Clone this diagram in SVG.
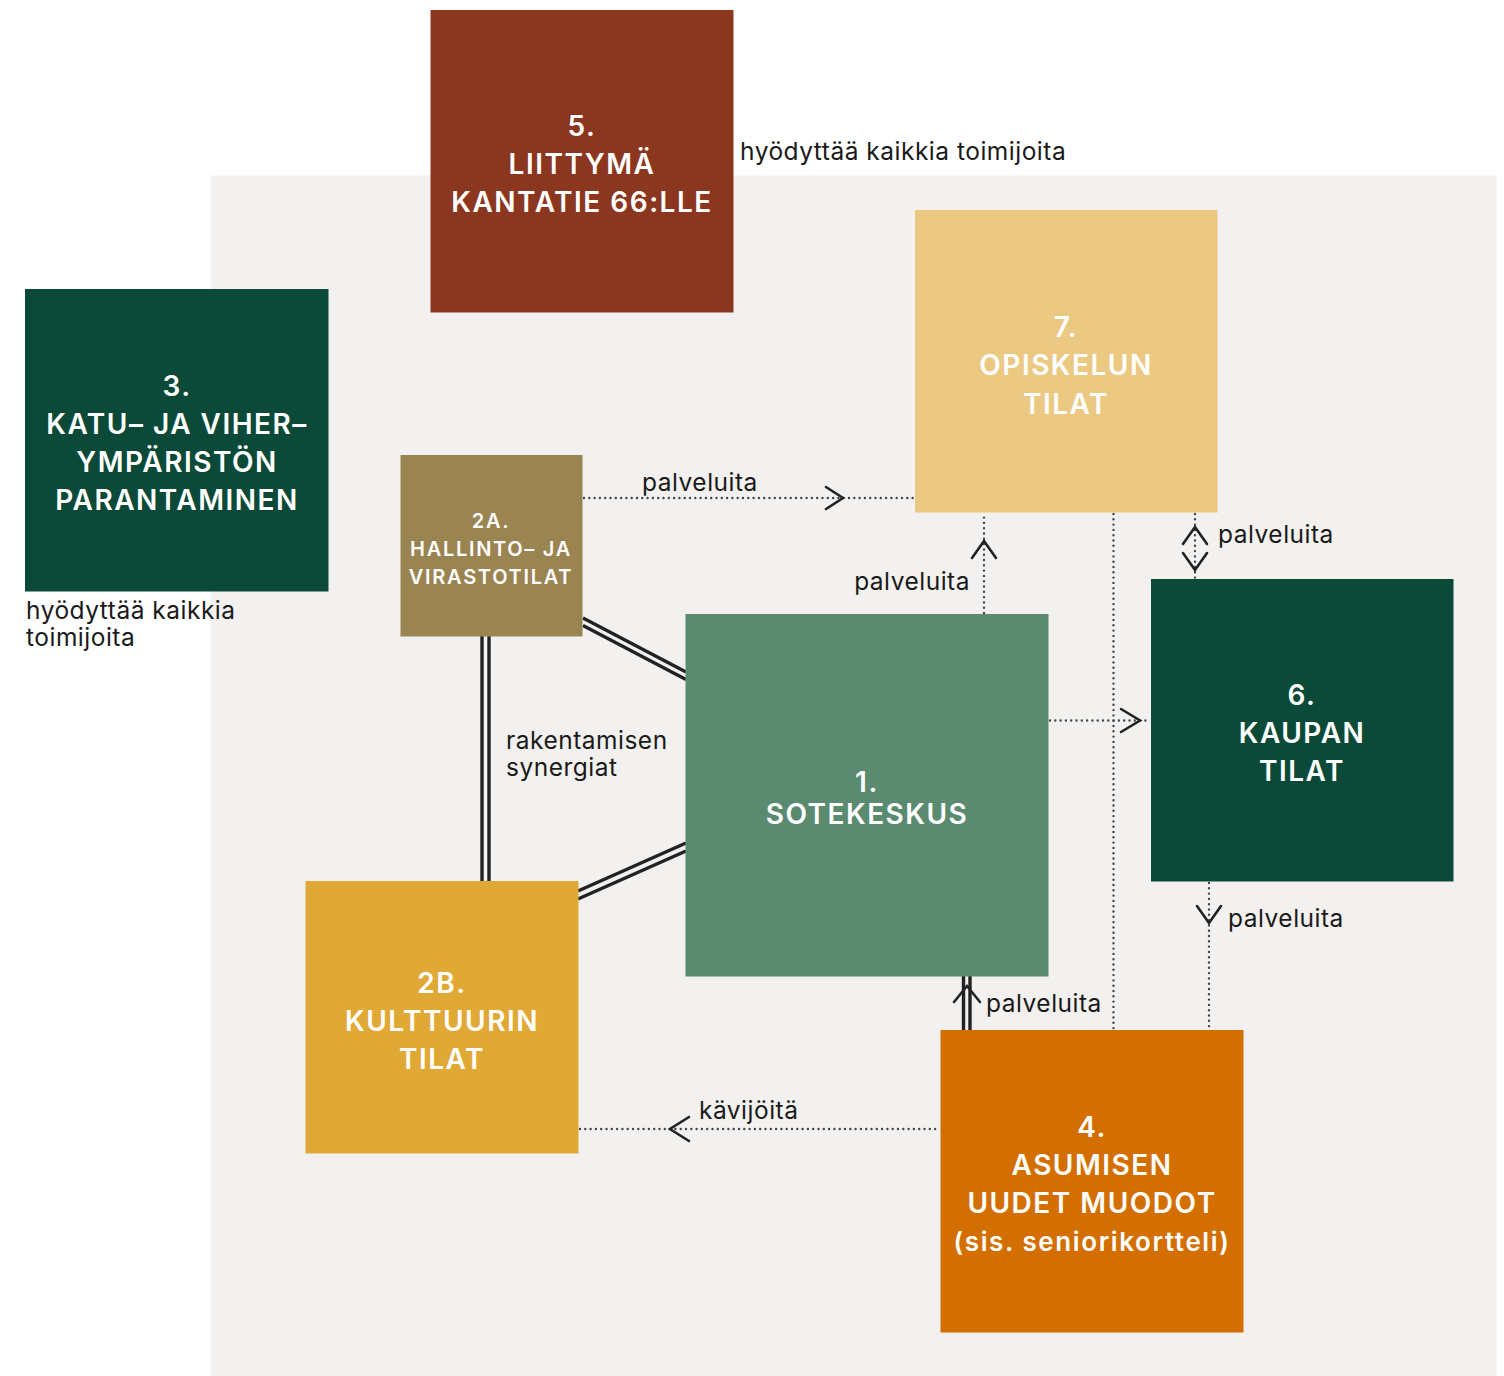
<svg xmlns="http://www.w3.org/2000/svg" width="1504" height="1376" viewBox="0 0 1504 1376">
<style>
.bx{font-family:Inter,"Open Sans","Liberation Sans",sans-serif;font-weight:600;fill:#fff;text-anchor:middle;font-size:28px;letter-spacing:1.5px}
.lc{font-size:26px;letter-spacing:1.6px}
.sm{font-size:20px;letter-spacing:1.7px}
.lb{font-family:Inter,"Open Sans","Liberation Sans",sans-serif;font-weight:400;fill:#1a1a1a;font-size:24.5px;letter-spacing:0.5px}
.dot{stroke:#444;stroke-width:2.4;stroke-dasharray:0 5.3;stroke-linecap:round;fill:none}
.chev{stroke:#222;stroke-width:2.6;fill:none;stroke-linecap:round;stroke-linejoin:miter}
.dbl{stroke:#222;stroke-width:3.4;fill:none}
</style>
<rect x="0" y="0" width="1504" height="1376" fill="#ffffff"/>
<rect x="210.5" y="175.5" width="1286" height="1201" fill="#f2f1ef"/>
<g id="connectors">
  <line class="dot" x1="584" y1="498" x2="914" y2="498"/>
  <polyline class="chev" points="826,487 843,498 826,509"/>
  <line class="dot" x1="984" y1="613" x2="984" y2="514"/>
  <polyline class="chev" points="972,558 984,541 996,558"/>
  <line class="dot" x1="1195" y1="514" x2="1195" y2="579"/>
  <polyline class="chev" points="1183,544 1195,527 1207,544"/>
  <polyline class="chev" points="1183,553 1195,570 1207,553"/>
  <line class="dot" x1="1050" y1="720.5" x2="1150" y2="720.5"/>
  <polyline class="chev" points="1121,709 1140,720.5 1121,732"/>
  <line class="dot" x1="1113.5" y1="514" x2="1113.5" y2="1030"/>
  <line class="dot" x1="1209" y1="883" x2="1209" y2="1030"/>
  <polyline class="chev" points="1197,906 1209,923 1221,906"/>
  <line class="dbl" x1="963.5" y1="976" x2="963.5" y2="1030"/>
  <line class="dbl" x1="970" y1="976" x2="970" y2="1030"/>
  <polyline class="chev" points="954,1002 967,986 980,1002"/>
  <line class="dot" x1="580" y1="1129" x2="940" y2="1129"/>
  <polyline class="chev" points="689,1117 670,1129 689,1141"/>
  <line class="dbl" x1="482" y1="636" x2="482" y2="881"/>
  <line class="dbl" x1="489" y1="636" x2="489" y2="881"/>
  <line class="dbl" x1="583" y1="618" x2="686" y2="672"/>
  <line class="dbl" x1="583" y1="625.5" x2="686" y2="679.5"/>
  <line class="dbl" x1="578" y1="891" x2="686" y2="843"/>
  <line class="dbl" x1="578" y1="899" x2="686" y2="851"/>
  <text class="lb" x="642" y="491">palveluita</text>
  <text class="lb" x="970" y="590" text-anchor="end">palveluita</text>
  <text class="lb" x="1218" y="543">palveluita</text>
  <text class="lb" x="1228" y="927">palveluita</text>
  <text class="lb" x="986" y="1012">palveluita</text>
  <text class="lb" x="699" y="1119">kävijöitä</text>
  <text class="lb" x="506" y="749">rakentamisen</text>
  <text class="lb" x="506" y="776">synergiat</text>
</g>
<g id="node5">
  <rect x="430.5" y="10" width="303" height="302.5" fill="#8b3720"/>
  <text class="bx" x="582" y="136">5.</text>
  <text class="bx" x="582" y="174">LIITTYMÄ</text>
  <text class="bx" x="582" y="212">KANTATIE 66:LLE</text>
  <text class="lb" x="740" y="160">hyödyttää kaikkia toimijoita</text>
</g>
<g id="node3">
  <rect x="25" y="289" width="303.5" height="302.5" fill="#0b4a38"/>
  <text class="bx" x="177" y="396">3.</text>
  <text class="bx" x="177" y="434">KATU– JA VIHER–</text>
  <text class="bx" x="177" y="472">YMPÄRISTÖN</text>
  <text class="bx" x="177" y="510">PARANTAMINEN</text>
  <text class="lb" x="26" y="619">hyödyttää kaikkia</text>
  <text class="lb" x="26" y="646">toimijoita</text>
</g>
<g id="node2a">
  <rect x="400.5" y="455" width="182" height="181.5" fill="#9a8452"/>
  <text class="bx sm" x="491" y="528">2A.</text>
  <text class="bx sm" x="491" y="556">HALLINTO– JA</text>
  <text class="bx sm" x="491" y="584">VIRASTOTILAT</text>
</g>
<g id="node7">
  <rect x="915" y="210" width="302.5" height="302.5" fill="#ebc982"/>
  <text class="bx" x="1066" y="337">7.</text>
  <text class="bx" x="1066" y="375">OPISKELUN</text>
  <text class="bx" x="1066" y="414">TILAT</text>
</g>
<g id="node1">
  <rect x="685.5" y="614" width="363" height="362.5" fill="#5a8a70"/>
  <text class="bx" x="867" y="792">1.</text>
  <text class="bx" x="867" y="824">SOTEKESKUS</text>
</g>
<g id="node6">
  <rect x="1151" y="579" width="302.5" height="302.5" fill="#0b4a38"/>
  <text class="bx" x="1302" y="705">6.</text>
  <text class="bx" x="1302" y="743">KAUPAN</text>
  <text class="bx" x="1302" y="781">TILAT</text>
</g>
<g id="node2b">
  <rect x="305.5" y="881" width="273" height="272.5" fill="#e0a935"/>
  <text class="bx" x="442" y="993">2B.</text>
  <text class="bx" x="442" y="1031">KULTTUURIN</text>
  <text class="bx" x="442" y="1069">TILAT</text>
</g>
<g id="node4">
  <rect x="940.5" y="1030" width="303" height="302.5" fill="#d36f00"/>
  <text class="bx" x="1092" y="1137">4.</text>
  <text class="bx" x="1092" y="1175">ASUMISEN</text>
  <text class="bx" x="1092" y="1213">UUDET MUODOT</text>
  <text class="bx lc" x="1092" y="1251">(sis. seniorikortteli)</text>
</g>
</svg>
